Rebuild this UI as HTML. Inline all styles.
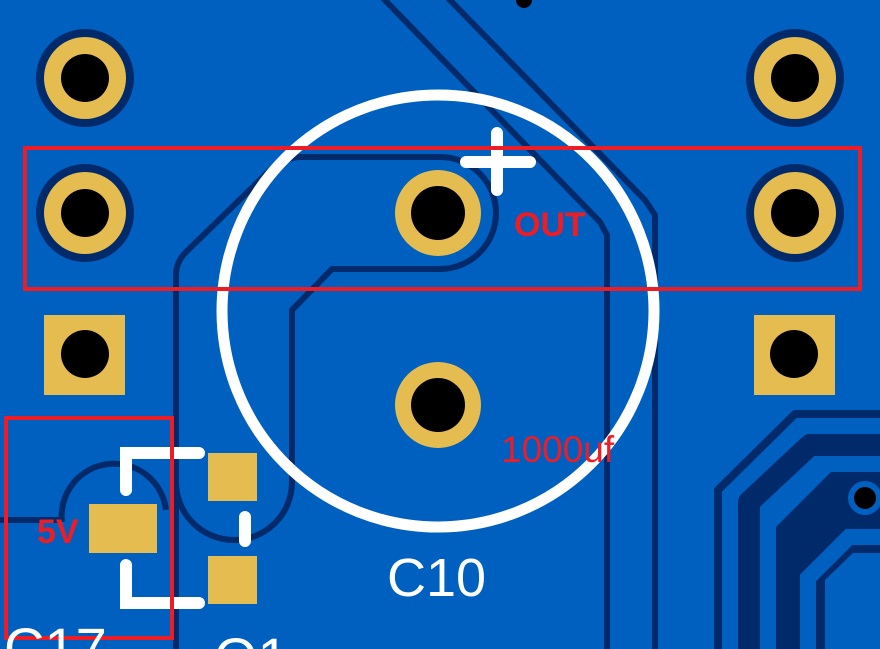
<!DOCTYPE html>
<html><head><style>html,body{margin:0;padding:0;background:#0060c0;width:880px;height:649px;overflow:hidden;}svg{display:block}</style></head>
<body>
<svg width="880" height="649" viewBox="0 0 880 649" xmlns="http://www.w3.org/2000/svg">
<rect width="880" height="649" fill="#0060c0"/>
<g fill="none" stroke="#002a6a" stroke-width="6" stroke-linejoin="round">
  <path d="M380,-5 L600,222 L607,235 L607,649"/>
  <path d="M445,-5 L645,200 L655,215 L655,649"/>
  <path d="M176,649 L176,275 Q176,262 186,252 L260,180 Q282,157 300,157 L440,157 A56,56 0 0 1 440,269 L332,269 L292,310 L292,470"/>
  <path d="M176,470 L176,482 A58,58 0 0 0 292,482 L292,470"/>
  <path d="M62,522 A52,52 0 0 1 166,510"/>
  <path d="M0,520 L62,520"/>
  <path d="M718,649 L718,490 L795,414 L880,414" stroke-width="8"/>
  <path d="M749,649 L749,502 L810,445 L880,445" stroke-width="22"/>
</g>
<polygon points="776,649 776,527 831,472 880,472 880,649" fill="#002a6a"/>
<path d="M808,649 L808,578 L849,537 L880,537" fill="none" stroke="#0060c0" stroke-width="16"/>
<polygon points="825,649 825,580 853,553 880,553 880,649" fill="#0060c0"/>
<circle cx="865" cy="498" r="17" fill="#0060c0"/>
<rect x="865" y="491" width="20" height="14" fill="#0060c0"/>
<circle cx="865" cy="498" r="11" fill="#000"/>
<circle cx="524" cy="0" r="8" fill="#000"/>
<g>
  <circle cx="85" cy="78" r="49" fill="#002a6a"/>
  <circle cx="85" cy="213" r="49" fill="#002a6a"/>
  <circle cx="795" cy="78" r="49" fill="#002a6a"/>
  <circle cx="795" cy="213" r="49" fill="#002a6a"/>
</g>
<g fill="#e5bc50">
  <circle cx="85" cy="78" r="41"/>
  <circle cx="85" cy="213" r="41"/>
  <circle cx="795" cy="78" r="41"/>
  <circle cx="795" cy="213" r="41"/>
  <circle cx="438" cy="213" r="43"/>
  <circle cx="438" cy="405" r="43"/>
  <rect x="44" y="315" width="81" height="80"/>
  <rect x="754" y="315" width="81" height="80"/>
  <rect x="89" y="504" width="68" height="49"/>
  <rect x="208" y="453" width="49" height="48"/>
  <rect x="208" y="556" width="49" height="48"/>
</g>
<g fill="#000">
  <circle cx="85" cy="78" r="24"/>
  <circle cx="85" cy="213" r="24"/>
  <circle cx="795" cy="78" r="24"/>
  <circle cx="795" cy="213" r="24"/>
  <circle cx="438" cy="213" r="27"/>
  <circle cx="438" cy="405" r="27"/>
  <circle cx="85" cy="354" r="24"/>
  <circle cx="794" cy="354" r="24"/>
</g>
<g fill="none" stroke="#fff" stroke-linecap="round">
  <circle cx="438" cy="311" r="216" stroke-width="11"/>
  <path d="M466,162 L530,162 M497,133 L497,190" stroke-width="12"/>
  <path d="M126,490 L126,453 L199,453 M126,565 L126,603 L199,603 M245,517 L245,541" stroke-width="12"/>
</g>
<rect x="25" y="148" width="835" height="141" fill="none" stroke="#ee1c24" stroke-width="4"/>
<rect x="6" y="418" width="166" height="220" fill="none" stroke="#ee1c24" stroke-width="4"/>
<g font-family="Liberation Sans, sans-serif">
  <text x="514" y="236" font-size="34" font-weight="bold" fill="#ee1c24">OUT</text>
  <text x="501" y="462" font-size="37" fill="#ee1c24">1000uf</text>
  <text x="37" y="543" font-size="34" font-weight="bold" fill="#ee1c24">5V</text>
  <text x="387" y="596" font-size="54" fill="#fff">C10</text>
  <text x="4" y="667" font-size="56" fill="#fff">C17</text>
  <text x="214" y="677" font-size="56" fill="#fff">Q1</text>
</g>
</svg>
</body></html>
